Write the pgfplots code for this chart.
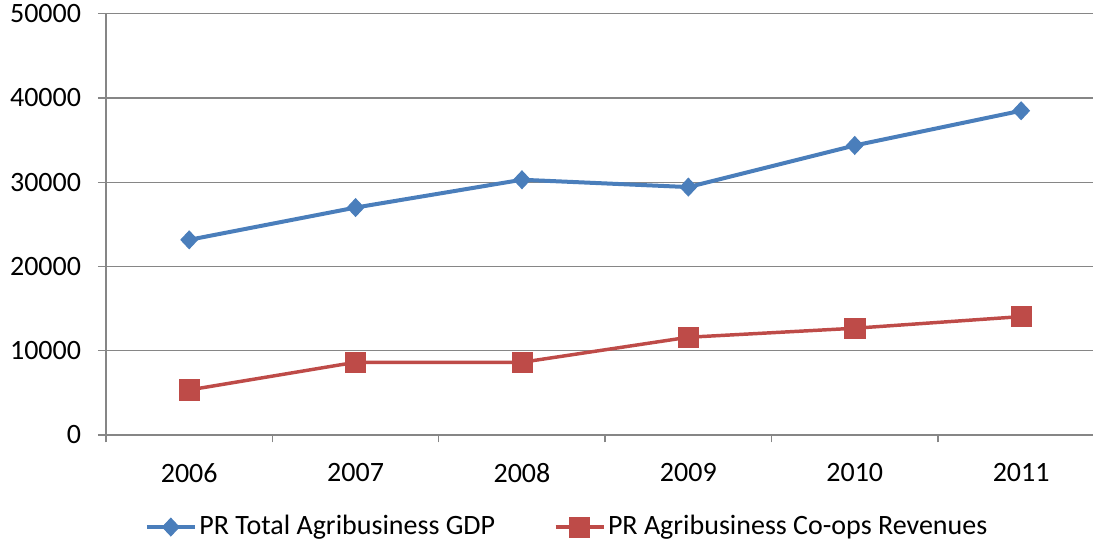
\documentclass[border=0pt]{standalone}
\usepackage{fontspec}
\setmainfont{Carlito}
\usepackage{pgfplots}
\pgfplotsset{compat=1.18}
\definecolor{gdpblue}{HTML}{4A7EBB}
\definecolor{coopred}{HTML}{BE4B48}
\definecolor{gridgray}{HTML}{868686}

\begin{document}
\fontsize{21}{25}\selectfont
\begin{tikzpicture}
\begin{axis}[
  scale only axis, width=740pt, height=316pt,
  xmin=-0.5, xmax=5.43, ymin=0, ymax=50000,
  axis x line*=bottom, axis y line*=left,
  axis line style={draw=gridgray, line width=1pt},
  xtick={0,...,5}, xticklabels={2006,2007,2008,2009,2010,2011},
  minor xtick={-0.5,0.5,...,4.5},
  ytick={0,10000,...,50000},
  ymajorgrids, grid style={gridgray, line width=1pt},
  tick align=outside,
  major x tick style={draw=none},
  minor x tick style={draw=gridgray, line width=1pt},
  major y tick style={draw=gridgray, line width=1pt},
  major tick length=6pt, minor tick length=5.5pt,
  scaled y ticks=false,
  /pgf/number format/.cd, fixed, 1000 sep={}, assume math mode=true, /pgfplots/.cd,
  ticklabel style={font=\fontsize{21}{25}\selectfont, text=black, inner ysep=1pt},
  yticklabel style={xshift=-5.5pt},
  xticklabel style={yshift=-14pt},
  legend style={at={(0.4676,-0.2185)}, anchor=center, draw=none, fill=none,
    legend columns=2, font=\fontsize{21}{25}\selectfont,
    /tikz/every even column/.append style={column sep=42pt}},
  legend cell align=left,
  legend image code/.code={\draw[mark repeat=2,mark phase=2,#1] plot coordinates {(0pt,0pt) (18pt,0pt) (36pt,0pt)};},
]
% Puerto Rico total agribusiness GDP
\addplot[gdpblue, line width=3pt, mark=diamond*, mark size=6.6pt,
  mark options={fill=gdpblue, draw=gdpblue, line width=0.8pt, xscale=1.25}]
  coordinates {(0,23160) (1,26990) (2,30290) (3,29420) (4,34360) (5,38480)};
\addlegendentry{PR Total Agribusiness GDP}
% Agribusiness cooperatives revenues
\addplot[coopred, line width=2.6pt, mark=square*, mark size=7.6pt,
  mark options={fill=coopred, draw=coopred, line width=0.5pt}]
  coordinates {(0,5345) (1,8630) (2,8630) (3,11600) (4,12670) (5,14050)};
\addlegendentry{PR Agribusiness Co-ops Revenues}
\end{axis}
\path (-79.5pt,-84.75pt) rectangle (741pt,326.25pt);
\end{tikzpicture}
\end{document}
